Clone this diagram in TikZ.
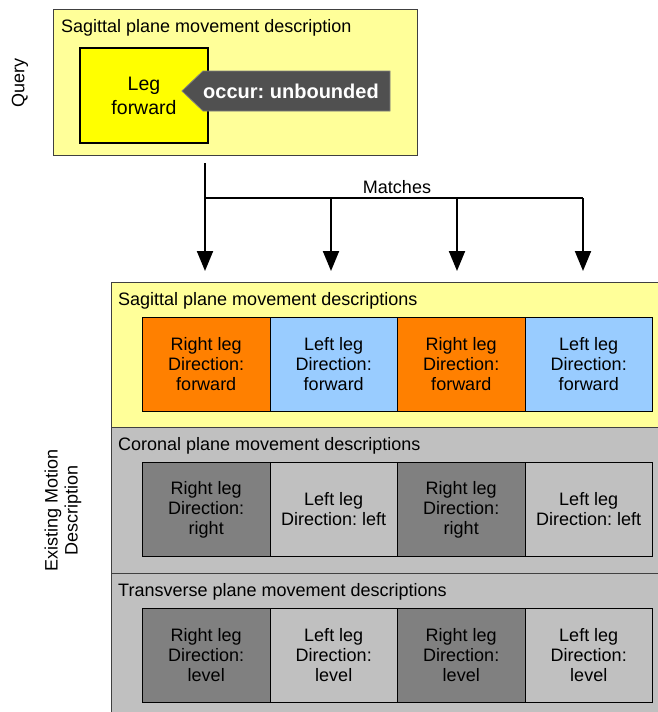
\documentclass[tikz,border=0pt]{standalone}
\usepackage{fontspec}
\setmainfont{Liberation Sans}
\usetikzlibrary{arrows.meta}
\frenchspacing
\definecolor{paleY}{HTML}{FFFF99}
\definecolor{brightY}{HTML}{FFFF00}
\definecolor{orangeC}{HTML}{FF8000}
\definecolor{blueC}{HTML}{99CCFF}
\definecolor{panelG}{HTML}{C0C0C0}
\definecolor{darkC}{HTML}{808080}
\definecolor{lightC}{HTML}{C0C0C0}
\definecolor{tagG}{HTML}{505050}
\definecolor{edgeG}{HTML}{404040}
\tikzset{
  body/.style={font=\frenchspacing\fontsize{18}{20}\selectfont},
  panel/.style={draw=edgeG, line width=1pt, anchor=north west, inner sep=0pt},
  cell/.style={draw=black, line width=1pt, anchor=north west, minimum width=127.5pt, minimum height=94pt, inner sep=0pt, align=center, body},
  ptitle/.style={anchor=west, inner sep=0pt, body},
  conn/.style={line width=2pt, -{Triangle[width=16pt,length=20pt]}},
  plain/.style={line width=2pt},
}
\begin{document}
\begin{tikzpicture}[x=1pt,y=-1pt]
\useasboundingbox (0,0) rectangle (658,712);
\clip (0,0) rectangle (658,712);
% Query
\node[panel, fill=paleY, minimum width=364pt, minimum height=146pt] (qbox) at (53,9) {};
\node[ptitle] (qtitle) at (61,27.5) {Sagittal plane movement description};
\node[draw=black, line width=2pt, fill=brightY, anchor=north west, minimum width=128pt, minimum height=95pt, inner sep=0pt, align=center, font=\fontsize{19.5}{24}\selectfont] (leg) at (79,47) {Leg\\forward};
\path[fill=tagG, draw=gray, line width=0.8pt] (182,91) -- (203,71) -- (390,71) -- (390,111) -- (203,111) -- cycle;
\node[text=white, font=\frenchspacing\bfseries\fontsize{20}{24}\selectfont, inner sep=0pt] (tag) at (291,91) {occur: unbounded};
\node[rotate=90, body, inner sep=0pt] (qlabel) at (20,83) {Query};
% connectors
\coordinate (src) at (205,163);
\coordinate (j0) at (205,198);
\coordinate (j1) at (331,198);
\coordinate (j2) at (457,198);
\coordinate (j3) at (583,198);
\coordinate (t0) at (205,271);
\coordinate (t1) at (331,271);
\coordinate (t2) at (457,271);
\coordinate (t3) at (583,271);
\draw[conn] (src) -- (t0);
\draw[plain] (j0) -- (j3);
\draw[conn] (j1) -- (t1);
\draw[conn] (j2) -- (t2);
\draw[conn] (j3) -- (t3);
\node[body, inner sep=0pt] (matches) at (397,187) {Matches};
% lower panels
\node[panel, fill=paleY, minimum width=570pt, minimum height=145pt] (sag) at (111,282) {};
\node[panel, fill=panelG, minimum width=570pt, minimum height=146pt] (cor) at (111,427) {};
\node[panel, fill=panelG, minimum width=570pt, minimum height=160pt] (tra) at (111,573) {};
\node[ptitle] (sagt) at (118,300.5) {Sagittal plane movement descriptions};
\node[ptitle] (cort) at (118,445.5) {Coronal plane movement descriptions};
\node[ptitle] (trat) at (118,591.5) {Transverse plane movement descriptions};
% sagittal cells
\node[cell, fill=orangeC] (s1) at (142,317) {Right leg\\Direction:\\forward};
\node[cell, fill=blueC] (s2) at (269.5,317) {Left leg\\Direction:\\forward};
\node[cell, fill=orangeC] (s3) at (397,317) {Right leg\\Direction:\\forward};
\node[cell, fill=blueC] (s4) at (524.5,317) {Left leg\\Direction:\\forward};
% coronal cells
\node[cell, fill=darkC] (c1) at (142,462) {Right leg\\Direction:\\right};
\node[cell, fill=lightC] (c2) at (269.5,462) {Left leg\\Direction: left};
\node[cell, fill=darkC] (c3) at (397,462) {Right leg\\Direction:\\right};
\node[cell, fill=lightC] (c4) at (524.5,462) {Left leg\\Direction: left};
% transverse cells
\node[cell, fill=darkC] (r1) at (142,608) {Right leg\\Direction:\\level};
\node[cell, fill=lightC] (r2) at (269.5,608) {Left leg\\Direction:\\level};
\node[cell, fill=darkC] (r3) at (397,608) {Right leg\\Direction:\\level};
\node[cell, fill=lightC] (r4) at (524.5,608) {Left leg\\Direction:\\level};
% side label
\node[rotate=90, body, align=center, inner sep=0pt] (elabel) at (63,510) {Existing Motion\\Description};
\end{tikzpicture}
\end{document}
